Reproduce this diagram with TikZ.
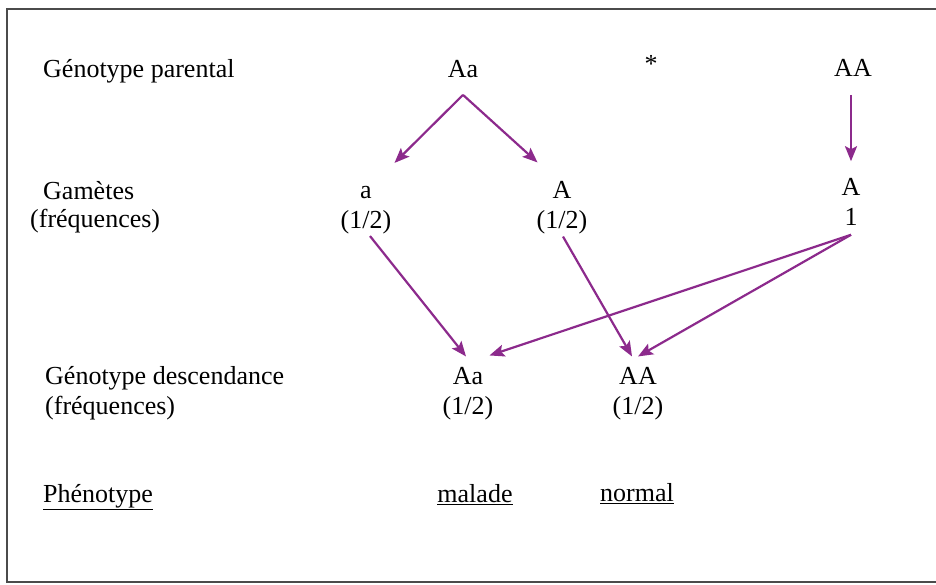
\documentclass[tikz,border=0pt]{standalone}
\usepackage{fontspec}
\setmainfont{Liberation Serif}
\usetikzlibrary{arrows.meta}
\definecolor{flux}{RGB}{140,42,140}
\definecolor{cadre}{RGB}{75,75,75}
\begin{document}
\begin{tikzpicture}[x=1pt,y=-1pt,
    txt/.style={inner sep=0pt,font=\fontsize{26}{30}\selectfont,align=center},
    lbl/.style={txt,anchor=west,align=left},
    fl/.style={draw=flux,line width=2.2pt,-{Stealth[length=15pt,width=12pt,inset=3pt]}}]
    \useasboundingbox (0,0) rectangle (936,585);
    % cadre (ouvert a droite)
    \draw[cadre,line width=2pt] (936,9)--(7,9)--(7,582)--(936,582);
    % libelles
    \node[lbl] (lpar) at (43,71) {Génotype parental};
    \node[lbl] (lgam) at (43,191) {Gamètes};
    \node[lbl] (lfreq) at (30,221) {(fréquences)};
    \node[lbl] (ldesc) at (45,393) {Génotype descendance\\(fréquences)};
    \node[lbl] (lphen) at (43,497) {\underline{Phénotype}};
    % parents
    \node[txt] (pAa) at (463,69) {Aa};
    \node[txt] (croix) at (651,64) {*};
    \node[txt] (pAA) at (853,68) {AA};
    % gametes
    \node[txt] (ga) at (366,210) {a\\(1/2)};
    \node[txt] (gA) at (562,208) {A\\(1/2)};
    \node[txt] (gB) at (851,202) {A\\1};
    % descendance
    \node[txt] (dAa) at (468,394) {Aa\\(1/2)};
    \node[txt] (dAA) at (638,394) {AA\\(1/2)};
    \node[txt] (mal) at (475,495) {\underline{malade}};
    \node[txt] (nor) at (637,494) {\underline{normal}};
    % fleches
    \draw[fl] ([yshift=-17pt]pAa.south)--([shift={(3pt,23pt)}]ga.north east);
    \draw[fl] ([yshift=-17pt]pAa.south)--([shift={(1pt,19pt)}]gA.north west);
    \draw[fl] ([shift={(-2pt,-18pt)}]pAA.south)--([yshift=17pt]gB.north);
    \draw[fl] ([shift={(4pt,-2pt)}]ga.south)--([shift={(-2pt,11pt)}]dAa.north);
    \draw[fl] ([shift={(1pt,-2pt)}]gA.south)--([shift={(-6pt,11pt)}]dAA.north);
    \draw[fl] ([yshift=-9pt]gB.south)--([shift={(-4pt,12pt)}]dAa.north east);
    \draw[fl] ([yshift=-9pt]gB.south)--([yshift=11pt]dAA.north);
\end{tikzpicture}
\end{document}
